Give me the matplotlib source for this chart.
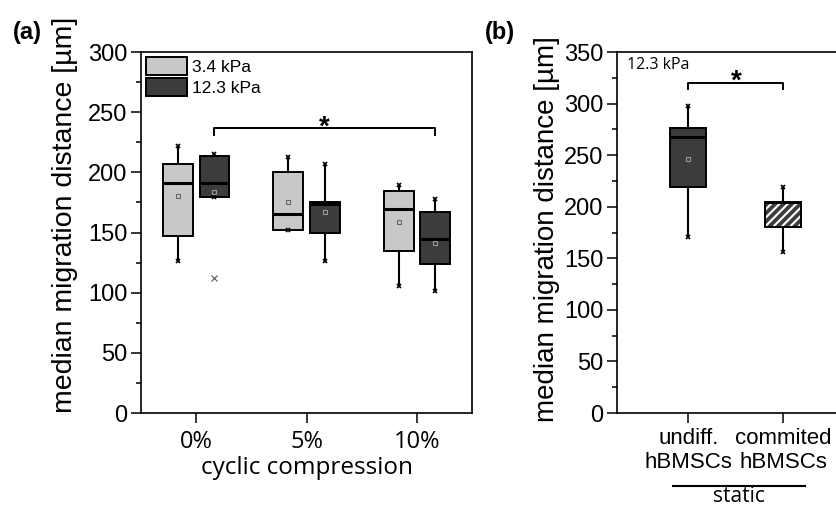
import matplotlib.pyplot as plt
from matplotlib.patches import Patch, PathPatch
from matplotlib.ticker import MultipleLocator

plt.rcParams['font.family'] = ['Liberation Sans', 'DejaVu Sans']
plt.rcParams['hatch.linewidth'] = 1.5

# panel (a): cyclic compression, two substrate stiffnesses
conditions = ['0%', '5%', '10%']
stiffness_labels = ['3.4 kPa', '12.3 kPa']

soft_q1 = [147, 152, 135]
soft_med = [191, 165.5, 169.5]
soft_q3 = [207, 200, 184.5]
soft_lo = [126, 152, 105.5]
soft_hi = [222, 212.5, 189.5]
soft_mean = [180, 175, 159]

stiff_q1 = [179.5, 150, 124]
stiff_med = [191, 174, 144.5]
stiff_q3 = [214, 175, 167]
stiff_lo = [179.5, 126, 101]
stiff_hi = [215, 207, 178]
stiff_mean = [184, 167, 141.5]
stiff_outliers = [[112], [], []]

# panel (b): static, 12.3 kPa
cell_types = ['undiff.\nhBMSCs', 'commited\nhBMSCs']
cell_q1 = [219, 180]
cell_med = [268, 204]
cell_q3 = [276, 204.5]
cell_lo = [171, 156]
cell_hi = [297.5, 219.5]
cell_mean = [246]

light = '#c8c8c8'
dark = '#3c3c3c'
sans2 = ['Open Sans', 'DejaVu Sans']


def make_stats(q1, med, q3, lo, hi, fliers=None):
    out = []
    for i in range(len(q1)):
        out.append(dict(q1=q1[i], med=med[i], q3=q3[i], whislo=lo[i], whishi=hi[i],
                        fliers=fliers[i] if fliers else []))
    return out


def draw_boxes(ax, st, pos, width, color):
    r = ax.bxp(st, positions=pos, widths=width, patch_artist=True, showcaps=False,
               showfliers=True,
               boxprops=dict(facecolor=color, edgecolor='black', linewidth=1.4),
               medianprops=dict(color='black', linewidth=2.2),
               whiskerprops=dict(color='black', linewidth=1.5),
               flierprops=dict(marker='x', markersize=4, markeredgecolor='#555555',
                               markeredgewidth=0.8))
    return r


def style_axis(ax):
    for s in ax.spines.values():
        s.set_linewidth(1.2)
    ax.tick_params(axis='y', which='major', direction='out', length=7, width=1.1,
                   labelsize=17, pad=3)
    ax.tick_params(axis='y', which='minor', direction='out', length=3.5, width=1.1)
    ax.tick_params(axis='x', which='major', direction='out', length=7, width=1.1,
                   labelsize=17, pad=5)
    ax.tick_params(axis='x', which='minor', bottom=False)


fig = plt.figure(figsize=(8.37, 5.09), dpi=100)

# ---------------- panel (a)
ax1 = fig.add_axes([0.1685, 0.1886, 0.3955, 0.7092])
x = [1, 2, 3]
off = 0.165
pos_soft = [v - off for v in x]
pos_stiff = [v + off for v in x]

draw_boxes(ax1, make_stats(soft_q1, soft_med, soft_q3, soft_lo, soft_hi), pos_soft, 0.27, light)
draw_boxes(ax1, make_stats(stiff_q1, stiff_med, stiff_q3, stiff_lo, stiff_hi, stiff_outliers),
           pos_stiff, 0.27, dark)

for p, lo, hi in [(pos_soft, soft_lo, soft_hi), (pos_stiff, stiff_lo, stiff_hi)]:
    ax1.plot(p, hi, 'x', color='black', ms=3.5, mew=1.2, zorder=4)
    ax1.plot(p, lo, 'x', color='black', ms=3.5, mew=1.2, zorder=4)
ax1.plot(pos_soft, soft_mean, 's', mfc='none', mec='#666666', ms=3.5, mew=0.8, zorder=5)
ax1.plot(pos_stiff, stiff_mean, 's', mfc='none', mec='#999999', ms=3.5, mew=0.8, zorder=5)

# significance bracket 0% vs 10% (12.3 kPa)
ax1.plot([pos_stiff[0], pos_stiff[0], pos_stiff[2], pos_stiff[2]], [231, 237, 237, 231],
         color='black', lw=1.4)
ax1.text((pos_stiff[0] + pos_stiff[2]) / 2, 237, '*', ha='center', va='center', fontsize=20,
         fontweight='bold')

ax1.set_xlim(0.5, 3.5)
ax1.set_ylim(0, 300)
ax1.set_xticks(x)
ax1.set_xticklabels(conditions, family=sans2, fontsize=16.5)
ax1.yaxis.set_major_locator(MultipleLocator(50))
ax1.yaxis.set_minor_locator(MultipleLocator(25))
style_axis(ax1)
ax1.set_ylabel('median migration distance [µm]', fontsize=20.5)
ax1.yaxis.set_label_coords(-0.19, 0.55)
ax1.set_xlabel('cyclic compression', fontsize=17.5, family=sans2, labelpad=2)

handles = [Patch(facecolor=light, edgecolor='black', linewidth=1.4),
           Patch(facecolor=dark, edgecolor='black', linewidth=1.4)]
ax1.legend(handles, stiffness_labels, loc='upper left', frameon=False, fontsize=12.5,
           handlelength=2.35, handleheight=1.2, labelspacing=0.2, handletextpad=0.3,
           borderaxespad=0.3, borderpad=0)

fig.text(0.033, 0.937, '(a)', fontsize=17, fontweight='bold', ha='center', va='center')

# ---------------- panel (b)
ax2 = fig.add_axes([0.7372, 0.1886, 0.2838, 0.7092])
xb = [1, 2]
rb = draw_boxes(ax2, make_stats(cell_q1, cell_med, cell_q3, cell_lo, cell_hi), xb, 0.38, dark)

# hatched committed box: white hatch on dark fill, black outline on top
hb = rb['boxes'][1]
hb.set_edgecolor('white')
hb.set_hatch('////')
hb.set_linewidth(0)
ax2.add_patch(PathPatch(hb.get_path(), transform=hb.get_transform(), facecolor='none',
                        edgecolor='black', linewidth=1.4, zorder=hb.get_zorder() + 0.1))
rb['medians'][1].set_linewidth(1.4)

ax2.plot(xb, cell_hi, 'x', color='black', ms=3.5, mew=1.2, zorder=4)
ax2.plot(xb, cell_lo, 'x', color='black', ms=3.5, mew=1.2, zorder=4)
ax2.plot(xb[:1], cell_mean, 's', mfc='none', mec='#999999', ms=3.5, mew=0.8, zorder=5)

ax2.plot([1, 1, 2, 2], [314, 320, 320, 314], color='black', lw=1.4)
ax2.text(1.5, 321, '*', ha='center', va='center', fontsize=20, fontweight='bold')
ax2.text(0.042, 0.964, '12.3 kPa', transform=ax2.transAxes, ha='left', va='center',
         fontsize=11.5, family=sans2)

ax2.set_xlim(0.25, 2.75)
ax2.set_ylim(0, 350)
ax2.set_xticks(xb)
ax2.set_xticklabels(cell_types, linespacing=1.2)
ax2.yaxis.set_major_locator(MultipleLocator(50))
ax2.yaxis.set_minor_locator(MultipleLocator(25))
style_axis(ax2)
ax2.tick_params(axis='x', pad=4, labelsize=16)
ax2.set_ylabel('median migration distance [µm]', fontsize=20)
ax2.yaxis.set_label_coords(-0.24, 0.51)

# "static" group line under the tick labels
ax2.plot([0.842, 2.23], [-0.202, -0.202], color='black', lw=1.5,
         transform=ax2.get_xaxis_transform(), clip_on=False)
ax2.text(1.53, -0.232, 'static', transform=ax2.get_xaxis_transform(), ha='center', va='center',
         fontsize=15, family=sans2)

fig.text(0.597, 0.937, '(b)', fontsize=17, fontweight='bold', ha='center', va='center')

fig.savefig('out.png', dpi=100)
